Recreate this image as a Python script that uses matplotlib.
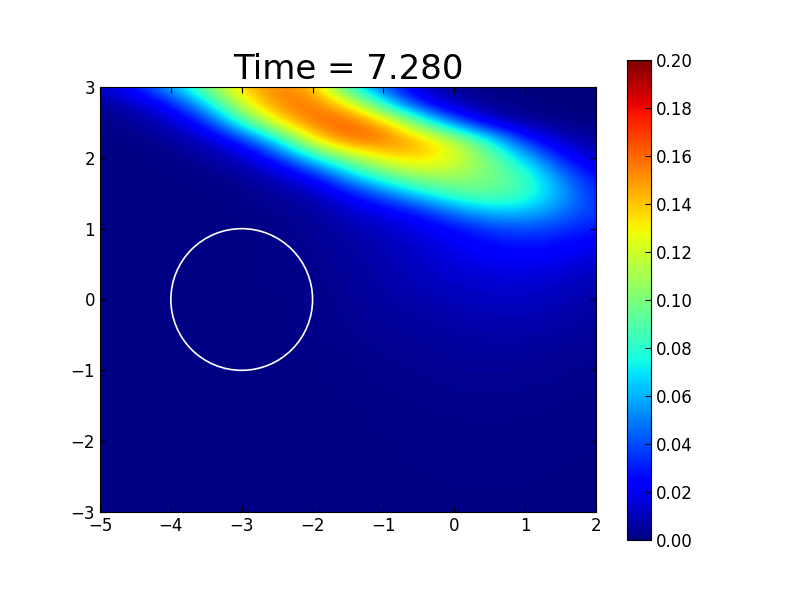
import numpy as np
import matplotlib
matplotlib.use('Agg')
import matplotlib.pyplot as plt
from matplotlib.patches import Circle

xs = [-5.0, -4.5, -4.0, -3.5, -3.0, -2.5, -2.0, -1.5, -1.0, -0.5, 0.0, 0.5, 1.0, 1.5, 2.0]
ys = [3.0, 2.75, 2.5, 2.25, 2.0, 1.75, 1.5, 1.25, 1.0, 0.75, 0.5, 0.25, 0.0,
      -0.25, -0.5, -0.75, -1.0, -1.25, -1.5, -1.75, -2.0, -2.25, -2.5, -2.75, -3.0]

# y = 3.0 ... 1.25 (the band)
ridge_rows = [
    [0.012, 0.030, 0.060, 0.100, 0.140, 0.155, 0.145, 0.080, 0.040, 0.012, 0.003, 0.001, 0.000, 0.000, 0.000],
    [0.004, 0.010, 0.025, 0.065, 0.120, 0.155, 0.160, 0.135, 0.080, 0.030, 0.010, 0.003, 0.001, 0.000, 0.000],
    [0.002, 0.004, 0.012, 0.030, 0.080, 0.130, 0.160, 0.165, 0.145, 0.095, 0.045, 0.015, 0.005, 0.002, 0.001],
    [0.001, 0.002, 0.004, 0.012, 0.030, 0.070, 0.130, 0.160, 0.160, 0.145, 0.120, 0.075, 0.032, 0.012, 0.004],
    [0.001, 0.001, 0.002, 0.005, 0.012, 0.030, 0.070, 0.105, 0.130, 0.140, 0.125, 0.100, 0.065, 0.030, 0.012],
    [0.001, 0.001, 0.001, 0.002, 0.004, 0.012, 0.025, 0.060, 0.090, 0.110, 0.110, 0.100, 0.085, 0.050, 0.025],
    [0.001, 0.001, 0.001, 0.001, 0.002, 0.005, 0.010, 0.025, 0.045, 0.070, 0.090, 0.095, 0.085, 0.060, 0.030],
    [0.001, 0.001, 0.001, 0.001, 0.002, 0.003, 0.005, 0.012, 0.020, 0.030, 0.050, 0.065, 0.065, 0.050, 0.035],
]

# y = 1.0 ... -3.0 (faint tail)
lower_rows = [
    [0.001, 0.001, 0.001, 0.001, 0.001, 0.002, 0.004, 0.008, 0.012, 0.018, 0.025, 0.035, 0.040, 0.035, 0.028],
    [0.001, 0.001, 0.001, 0.001, 0.001, 0.002, 0.003, 0.006, 0.009, 0.014, 0.020, 0.025, 0.028, 0.025, 0.020],
    [0.001, 0.001, 0.001, 0.001, 0.001, 0.002, 0.003, 0.005, 0.008, 0.012, 0.016, 0.019, 0.020, 0.018, 0.013],
    [0.001, 0.001, 0.001, 0.001, 0.001, 0.002, 0.002, 0.004, 0.007, 0.010, 0.013, 0.015, 0.015, 0.013, 0.009],
    [0.001, 0.001, 0.001, 0.001, 0.001, 0.001, 0.002, 0.004, 0.006, 0.008, 0.010, 0.012, 0.012, 0.010, 0.007],
    [0.001, 0.001, 0.001, 0.001, 0.001, 0.001, 0.002, 0.003, 0.005, 0.006, 0.008, 0.009, 0.009, 0.008, 0.005],
    [0.001, 0.001, 0.001, 0.001, 0.001, 0.001, 0.002, 0.003, 0.004, 0.005, 0.006, 0.007, 0.007, 0.006, 0.004],
    [0.001, 0.001, 0.001, 0.001, 0.001, 0.001, 0.002, 0.002, 0.003, 0.004, 0.005, 0.005, 0.005, 0.004, 0.003],
    [0.001, 0.001, 0.001, 0.001, 0.001, 0.001, 0.001, 0.002, 0.003, 0.003, 0.004, 0.004, 0.004, 0.003, 0.003],
    [0.001, 0.001, 0.001, 0.001, 0.001, 0.001, 0.001, 0.002, 0.002, 0.003, 0.003, 0.003, 0.003, 0.003, 0.002],
    [0.001, 0.001, 0.001, 0.001, 0.001, 0.001, 0.001, 0.001, 0.002, 0.002, 0.003, 0.003, 0.003, 0.002, 0.002],
    [0.001, 0.001, 0.001, 0.001, 0.001, 0.001, 0.001, 0.001, 0.002, 0.002, 0.002, 0.002, 0.002, 0.002, 0.002],
    [0.001, 0.001, 0.001, 0.001, 0.001, 0.001, 0.001, 0.001, 0.001, 0.002, 0.002, 0.002, 0.002, 0.002, 0.002],
    [0.001, 0.001, 0.001, 0.001, 0.001, 0.001, 0.001, 0.001, 0.001, 0.002, 0.002, 0.002, 0.002, 0.002, 0.001],
    [0.001, 0.001, 0.001, 0.001, 0.001, 0.001, 0.001, 0.001, 0.001, 0.001, 0.002, 0.002, 0.002, 0.001, 0.001],
    [0.001, 0.001, 0.001, 0.001, 0.001, 0.001, 0.001, 0.001, 0.001, 0.001, 0.001, 0.001, 0.001, 0.001, 0.001],
    [0.001, 0.001, 0.001, 0.001, 0.001, 0.001, 0.001, 0.001, 0.001, 0.001, 0.001, 0.001, 0.001, 0.001, 0.001],
]

obstacle_center = (-3.0, 0.0)
obstacle_radius = 1.0
time_value = 7.280
cbar_ticks = [0.00, 0.02, 0.04, 0.06, 0.08, 0.10, 0.12, 0.14, 0.16, 0.18, 0.20]

density = np.array(ridge_rows + lower_rows)

plt.rcParams['xtick.direction'] = 'in'
plt.rcParams['ytick.direction'] = 'in'
plt.rcParams['font.size'] = 12

fig = plt.figure(figsize=(8, 6), dpi=100)
ax = fig.add_axes([0.125, 0.1467, 0.62, 0.7083])
cax = fig.add_axes([0.784, 0.1, 0.03, 0.8])

dx = (xs[1] - xs[0]) / 2
dy = (ys[0] - ys[1]) / 2
im = ax.imshow(density, cmap='jet', vmin=0.0, vmax=0.2, origin='upper',
               interpolation='bicubic', aspect='auto',
               extent=[xs[0] - dx, xs[-1] + dx, ys[-1] - dy, ys[0] + dy])
ax.add_patch(Circle(obstacle_center, obstacle_radius, fill=False, edgecolor='white', linewidth=1.2))

ax.set_xlim(-5, 2)
ax.set_ylim(-3, 3)
ax.set_xticks(range(-5, 3))
ax.set_yticks(range(-3, 4))
ax.tick_params(top=True, right=True, length=4, width=0.8)
ax.set_title('Time = %.3f' % time_value, fontsize=24.5)

cb = fig.colorbar(im, cax=cax, ticks=cbar_ticks, format='%.2f')
cb.ax.tick_params(direction='in', length=4, width=0.8)

fig.savefig('out.png', dpi=100)
